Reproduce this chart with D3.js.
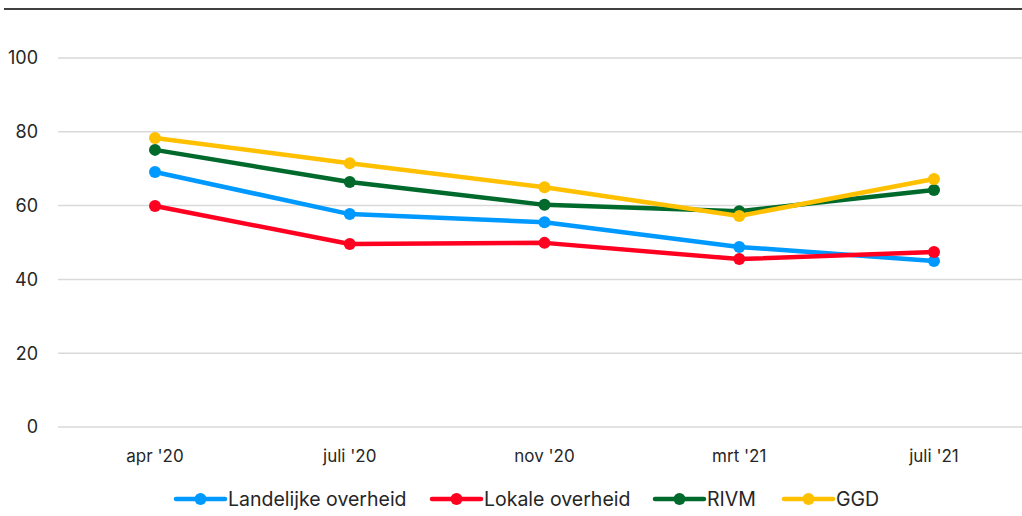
<!DOCTYPE html>
<html>
<head>
<meta charset="utf-8">
<script src="https://cdn.jsdelivr.net/npm/d3@7"></script>
<style>
  body { margin: 0; background: #fff; }
  svg text { font-family: Inter, "Open Sans", sans-serif; fill: #262626; }
</style>
</head>
<body>
<div id="chart"></div>
<script>
// data
var categories = ["apr '20", "juli '20", "nov '20", "mrt '21", "juli '21"];
var seriesNames = ["Landelijke overheid", "Lokale overheid", "RIVM", "GGD"];
var seriesColors = ["#0099ff", "#ff0020", "#006a2c", "#ffc000"];
var landelijke = [69.1, 57.7, 55.5, 48.8, 45.0];
var lokale = [59.9, 49.6, 49.9, 45.5, 47.4];
var rivm = [75.1, 66.4, 60.2, 58.5, 64.2];
var ggd = [78.3, 71.5, 65.0, 57.2, 67.2];
var yTicks = [0, 20, 40, 60, 80, 100];

var allSeries = [landelijke, lokale, rivm, ggd];

var width = 1022, height = 516;
var svg = d3.select('#chart').append('svg')
  .attr('width', width)
  .attr('height', height);

// top rule
svg.append('line')
  .attr('x1', 4).attr('x2', width)
  .attr('y1', 9).attr('y2', 9)
  .attr('stroke', '#000').attr('stroke-width', 1.5);

var x = d3.scalePoint()
  .domain(categories)
  .range([155, 934]);

var y = d3.scaleLinear()
  .domain([0, 100])
  .range([427, 58]);

// gridlines
svg.append('g').selectAll('line')
  .data(yTicks)
  .enter().append('line')
  .attr('x1', 58).attr('x2', width)
  .attr('y1', function(d) { return y(d); })
  .attr('y2', function(d) { return y(d); })
  .attr('stroke', '#d9d9d9').attr('stroke-width', 1.5);

// y labels
svg.append('g').selectAll('text')
  .data(yTicks)
  .enter().append('text')
  .attr('x', 38)
  .attr('y', function(d) { return y(d); })
  .attr('dy', '0.35em')
  .attr('text-anchor', 'end')
  .style('font-size', '18px')
  .text(function(d) { return d; });

// x labels
svg.append('g').selectAll('text')
  .data(categories)
  .enter().append('text')
  .attr('x', function(d) { return x(d); })
  .attr('y', 462)
  .attr('text-anchor', 'middle')
  .style('font-size', '17px')
  .text(function(d) { return d; });

var line = d3.line()
  .x(function(d, i) { return x(categories[i]); })
  .y(function(d) { return y(d); });

allSeries.forEach(function(vals, s) {
  var g = svg.append('g');
  g.append('path')
    .datum(vals)
    .attr('d', line)
    .attr('fill', 'none')
    .attr('stroke', seriesColors[s])
    .attr('stroke-width', 4.5)
    .attr('stroke-linejoin', 'round');
  g.selectAll('circle')
    .data(vals)
    .enter().append('circle')
    .attr('cx', function(d, i) { return x(categories[i]); })
    .attr('cy', function(d) { return y(d); })
    .attr('r', 6)
    .attr('fill', seriesColors[s]);
});

// legend
var legendX = [176, 432, 655, 784];
var legend = svg.append('g');
seriesNames.forEach(function(name, s) {
  var lg = legend.append('g').attr('transform', 'translate(' + legendX[s] + ',499)');
  lg.append('line')
    .attr('x1', 0).attr('x2', 49)
    .attr('stroke', seriesColors[s]).attr('stroke-width', 4.5)
    .attr('stroke-linecap', 'round');
  lg.append('circle')
    .attr('cx', 24.5).attr('r', 6)
    .attr('fill', seriesColors[s]);
  lg.append('text')
    .attr('x', 52)
    .attr('dy', '0.35em')
    .style('font-size', '19.5px')
    .text(name);
});
</script>
</body>
</html>
